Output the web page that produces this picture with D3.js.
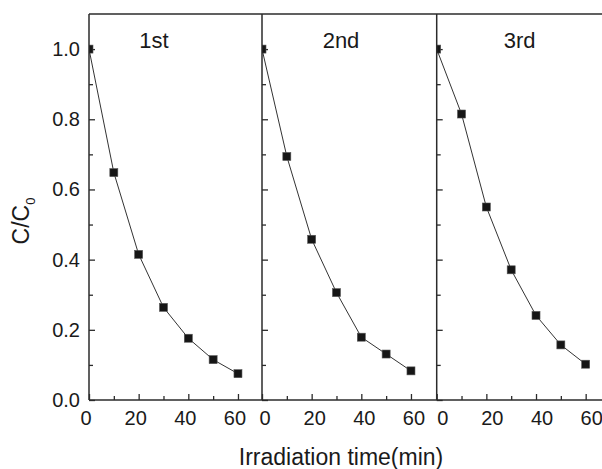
<!DOCTYPE html>
<html>
<head>
<meta charset="utf-8">
<script src="https://cdn.jsdelivr.net/npm/d3@7"></script>
<style>
  html, body { margin: 0; padding: 0; background: #fff; }
  svg { display: block; }
  text { font-family: "Liberation Sans", Arial, Helvetica, sans-serif; fill: #1a1a1a; }
</style>
</head>
<body>
<svg id="chart" width="602" height="469"></svg>
<script>
// Irradiation times (min) shared by all three runs
const times = [0, 10, 20, 30, 40, 50, 60];
// C/C0 for each successive photocatalytic cycle
const run1 = [1.0, 0.648, 0.415, 0.264, 0.176, 0.115, 0.075];
const run2 = [1.0, 0.694, 0.458, 0.306, 0.179, 0.131, 0.083];
const run3 = [1.0, 0.815, 0.550, 0.371, 0.241, 0.157, 0.102];
const runLabels = ["1st", "2nd", "3rd"];

// Axis ticks
const xMajorTicks = [0, 20, 40, 60];
const xMinorTicks = [10, 30, 50];
const yMajorTicks = [0.0, 0.2, 0.4, 0.6, 0.8, 1.0];
const yMinorTicks = [0.1, 0.3, 0.5, 0.7, 0.9];
const xDomain = [0, 70];
const yDomain = [0, 1.1];

// Layout
const plotTop = 14, plotBottom = 400;
const panelLeft = [89, 262, 436.7];
const panelWidth = 173.8;
const labelShift = [-3.5, 2.5, 5.5];     // nudge of x tick labels per panel
const runLabelX = [65, 79, 83];          // run label centre, px from panel left
const frameColor = "#2b2b2b";

const svg = d3.select("#chart");
const runs = [run1, run2, run3];

const y = d3.scaleLinear().domain(yDomain).range([plotBottom, plotTop]);

runs.forEach((vals, i) => {
  const x = d3.scaleLinear().domain(xDomain).range([0, panelWidth]);
  const g = svg.append("g").attr("transform", `translate(${panelLeft[i]},0)`);

  // clip data marks to the plotting area
  const clipId = "clip" + i;
  g.append("clipPath").attr("id", clipId)
    .append("rect")
    .attr("x", 0).attr("y", plotTop)
    .attr("width", panelWidth).attr("height", plotBottom - plotTop);

  // minor / major ticks on bottom (inward)
  g.append("g").attr("transform", `translate(0,${plotBottom})`)
    .call(d3.axisBottom(x).tickValues(xMinorTicks).tickSize(-4).tickFormat(""))
    .call(a => a.select(".domain").remove())
    .call(a => a.selectAll("line").attr("stroke", frameColor).attr("stroke-width", 1.3));

  const xa = g.append("g").attr("transform", `translate(0,${plotBottom})`)
    .call(d3.axisBottom(x).tickValues(xMajorTicks).tickSize(-6).tickPadding(11)
      .tickFormat(d3.format("d")))
    .call(a => a.select(".domain").remove())
    .call(a => a.selectAll("line").attr("stroke", frameColor).attr("stroke-width", 1.3));
  xa.selectAll("text")
    .attr("x", labelShift[i])
    .style("font-size", "20px")
    .attr("fill", "#1a1a1a");

  // left ticks (inward)
  g.append("g")
    .call(d3.axisLeft(y).tickValues(yMinorTicks).tickSize(-4).tickFormat(""))
    .call(a => a.select(".domain").remove())
    .call(a => a.selectAll("line").attr("stroke", frameColor).attr("stroke-width", 1.3));

  const ya = g.append("g")
    .call(d3.axisLeft(y).tickValues(yMajorTicks).tickSize(-6).tickPadding(9)
      .tickFormat(d3.format(".1f")))
    .call(a => a.select(".domain").remove())
    .call(a => a.selectAll("line").attr("stroke", frameColor).attr("stroke-width", 1.3));
  ya.selectAll("text")
    .style("font-size", "20px")
    .attr("fill", "#1a1a1a");
  if (i > 0) ya.selectAll("text").remove();

  // data
  const pts = times.map((t, k) => ({ t, v: vals[k] }));
  const dg = g.append("g").attr("clip-path", `url(#${clipId})`);
  dg.append("path")
    .datum(pts)
    .attr("fill", "none")
    .attr("stroke", "#333")
    .attr("stroke-width", 1)
    .attr("d", d3.line().x(d => x(d.t)).y(d => y(d.v)));

  const s = 8;
  dg.selectAll("rect.pt").data(pts).enter().append("rect")
    .attr("class", "pt")
    .attr("x", d => x(d.t) - s / 2)
    .attr("y", d => y(d.v) - s / 2)
    .attr("width", s).attr("height", s)
    .attr("fill", "#161616")
    .attr("stroke", "#555")
    .attr("stroke-width", 0.6);

  // run label
  g.append("text")
    .attr("x", runLabelX[i])
    .attr("y", 48)
    .attr("text-anchor", "middle")
    .style("font-size", "22px")
    .text(runLabels[i]);

  // left edge of panel
  g.append("line")
    .attr("x1", 0).attr("x2", 0)
    .attr("y1", plotTop).attr("y2", plotBottom)
    .attr("stroke", frameColor).attr("stroke-width", 1.5);
});

// top and bottom frame lines
svg.append("line")
  .attr("x1", panelLeft[0]).attr("x2", 602)
  .attr("y1", plotTop).attr("y2", plotTop)
  .attr("stroke", frameColor).attr("stroke-width", 1.5);
svg.append("line")
  .attr("x1", panelLeft[0]).attr("x2", 602)
  .attr("y1", plotBottom).attr("y2", plotBottom)
  .attr("stroke", frameColor).attr("stroke-width", 1.5);

// axis titles
svg.append("text")
  .attr("x", 341)
  .attr("y", 465)
  .attr("text-anchor", "middle")
  .style("font-size", "23px")
  .text("Irradiation time(min)");

const yt = svg.append("text")
  .attr("transform", "translate(29,221) rotate(-90)")
  .attr("text-anchor", "middle")
  .style("font-size", "23px");
yt.append("tspan").text("C/C");
yt.append("tspan").attr("dy", 6).style("font-size", "13px").text("0");
</script>
</body>
</html>
